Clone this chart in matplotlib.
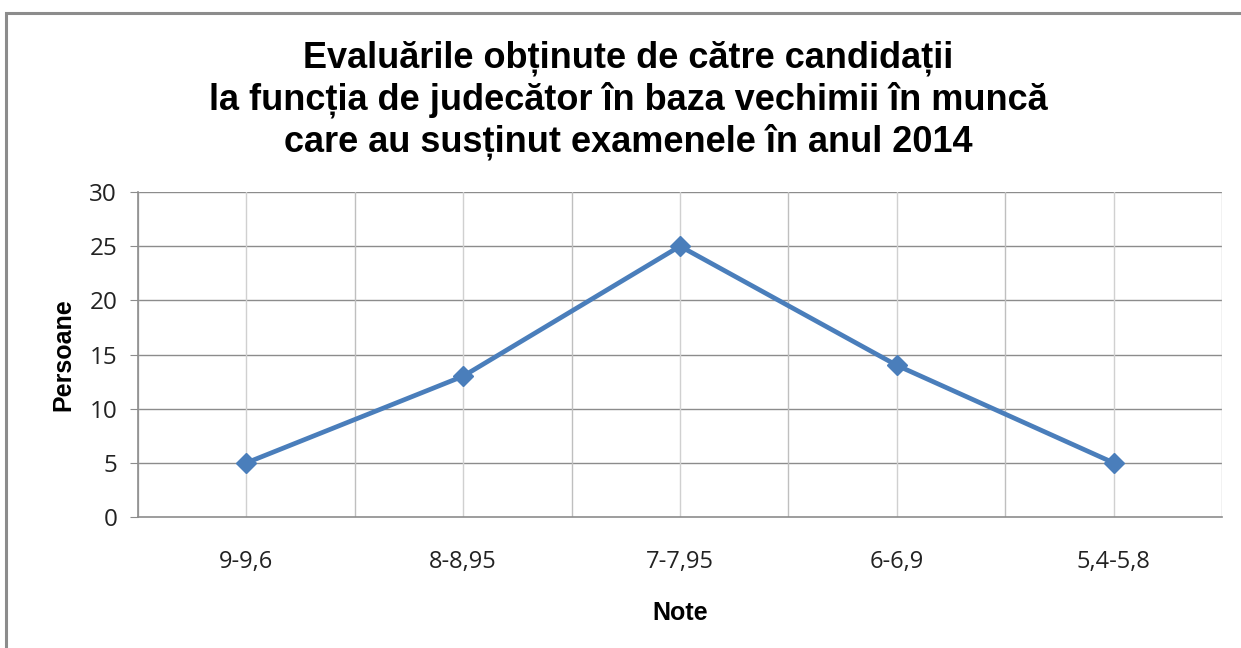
import matplotlib
matplotlib.use("Agg")
import matplotlib.pyplot as plt
from matplotlib.patches import Rectangle

categories = ["9-9,6", "8-8,95", "7-7,95", "6-6,9", "5,4-5,8"]
values = [5, 13, 25, 14, 5]
yticks = [0, 5, 10, 15, 20, 25, 30]

title = ("Evaluările obținute de către candidații\n"
         "la funcția de judecător în baza vechimii în muncă\n"
         "care au susținut examenele în anul 2014")

W, H = 1241, 648
fig = plt.figure(figsize=(W / 100, H / 100), dpi=100)
fig.patch.set_facecolor("white")

# chart frame
fig.patches.append(Rectangle((6 / W, -0.05), 1.1, 1 - 13 / H + 0.05,
                             transform=fig.transFigure, fill=False,
                             edgecolor="#8c8c8c", linewidth=2.2))

ax = fig.add_axes([138 / W, 1 - 517 / H, (1222 - 138) / W, (517 - 192) / H])
x = list(range(len(categories)))
ax.set_xlim(-0.5, len(categories) - 0.5)
ax.set_ylim(0, 30)

# gridlines
for yv in yticks[1:]:
    ax.axhline(yv, color="#8c8c8c", linewidth=1.0, zorder=1)
for i in range(len(categories) + 1):
    ax.axvline(i - 0.5, color="#bfbfbf", linewidth=1.0, zorder=1)
for i in x:
    ax.axvline(i, color="#d0d0d0", linewidth=1.0, zorder=1)

ax.plot(x, values, color="#4a7ebb", linewidth=3.4, marker="D",
        markersize=10, markerfacecolor="#4a7ebb", markeredgecolor="#4a7ebb",
        zorder=3, solid_joinstyle="round")

for s in ["top", "right"]:
    ax.spines[s].set_visible(False)
ax.spines["left"].set_color("#8c8c8c")
ax.spines["bottom"].set_color("#8c8c8c")
ax.spines["left"].set_linewidth(1.2)
ax.spines["bottom"].set_linewidth(1.2)

ax.set_yticks(yticks)
ax.set_yticklabels([str(v) for v in yticks], fontsize=17.5, family="Open Sans",
                   color="#222222")
ax.tick_params(axis="y", length=6, color="#8c8c8c", pad=9)
ax.set_xticks(x)
ax.set_xticklabels(categories, fontsize=17, family="Open Sans", color="#222222")
ax.tick_params(axis="x", length=0, pad=24)

ax.set_ylabel("Persoane", fontsize=18, fontweight="bold",
              family="Liberation Sans", labelpad=10)
ax.set_xlabel("Note", fontsize=18, fontweight="bold",
              family="Liberation Sans", labelpad=19)

fig.text(628 / W, 1 - 100 / H, title, ha="center", va="center",
         fontsize=26, fontweight="bold", family="Liberation Sans",
         linespacing=1.2)

fig.savefig("out.png", dpi=100, facecolor="white")
